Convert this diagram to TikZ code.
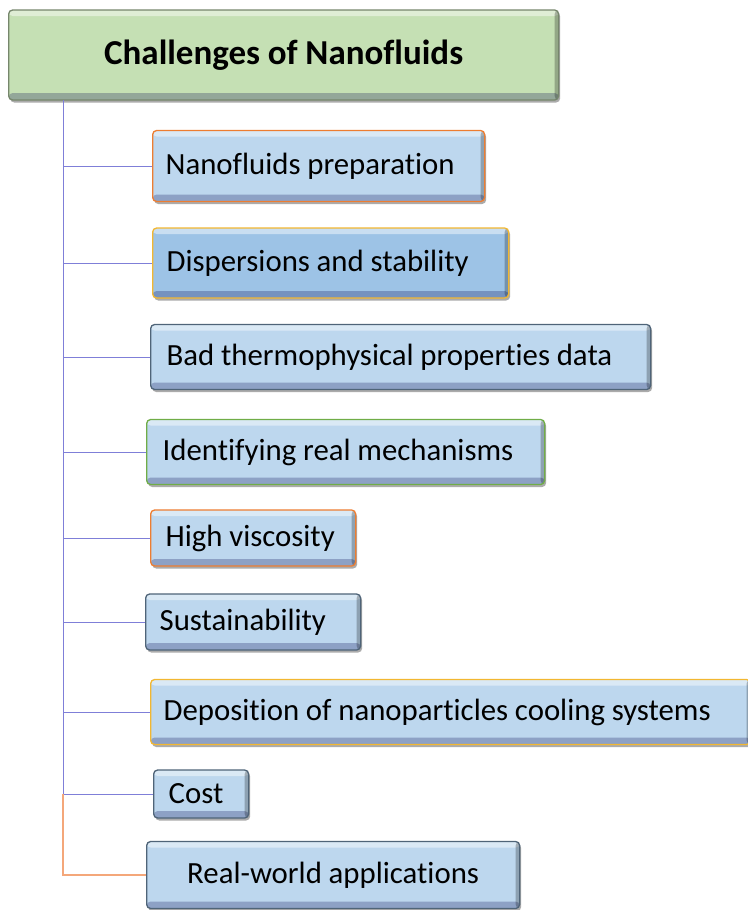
\documentclass[tikz,border=0pt]{standalone}
\usepackage{fontspec}
\setmainfont[Ligatures=NoCommon]{Carlito}
\usepackage{tikz}
\usetikzlibrary{shadows}
\definecolor{cbox}{HTML}{BDD7EE}
\definecolor{cboxd}{HTML}{9DC3E6}
\definecolor{ctitle}{HTML}{C5E0B4}
\definecolor{co}{HTML}{ED7D31}
\definecolor{cy}{HTML}{F2B731}
\definecolor{cg}{HTML}{70AD47}
\definecolor{cs}{HTML}{4F6478}
\definecolor{cl}{HTML}{7F7FD8}
\definecolor{cf}{HTML}{F4A77A}
\newcommand{\tightsp}{\spaceskip=0.22em\relax}

\tikzset{
  bevel/.style={rounded corners=4pt, line width=1.3pt, inner ysep=0pt, anchor=west,
    execute at begin node=\tightsp,
    drop shadow={shadow xshift=1.5pt, shadow yshift=-2.5pt, fill=black!60, opacity=.55},
    path picture={
      \fill[white, opacity=.45] (path picture bounding box.north west) rectangle ([yshift=-6pt]path picture bounding box.north east);
      \fill[black!70!blue, opacity=.25] ([yshift=7pt]path picture bounding box.south west) rectangle (path picture bounding box.south east);
      \fill[black, opacity=.25] ([xshift=-4pt]path picture bounding box.north east) rectangle (path picture bounding box.south east);}},
  itembox/.style={bevel, font=\fontsize{30.8}{36}\selectfont},
  headbox/.style={bevel, fill=ctitle, draw=ctitle!60!black, font=\bfseries\fontsize{35}{42}\selectfont, align=center},
  conn/.style={cl, line width=1pt},
  connlast/.style={cf, line width=1.2pt}
}

\begin{document}
\begin{tikzpicture}[x=1pt,y=-1pt]
  \useasboundingbox (0,0) rectangle (747,910);
  \node[headbox, minimum width=550, minimum height=90, text width=530] (title) at (8,55) {Challenges of Nanofluids};
  \coordinate (trunk) at (63,100);
  % challenge boxes: name/left/y/width/height/pad/border/fill/text
  \foreach \n/\x/\y/\w/\h/\p/\bc/\fc/\txt [evaluate=\w as \tw using \w-2*\p] in {
      n1/152/166/332/71/13/co/cbox/Nanofluids preparation,
      n2/152/263/356/70/14/cy/cboxd/Dispersions and stability,
      n3/150/357/500/65/16/cs/cbox/Bad thermophysical properties data,
      n4/146/452/398/65/16/cg/cbox/Identifying real mechanisms,
      n5/150/538/205/56/15/co/cbox/High viscosity,
      n6/145/622/215/56/14/cs/cbox/Sustainability,
      n7/150/712/600/65/13/cy/cbox/Deposition of nanoparticles cooling systems,
      n8/153/794/95/48/15/cs/cbox/Cost} {
    \node[itembox, draw=\bc, fill=\fc, inner xsep=\p pt, text width=\tw pt, minimum height=\h, align=left] (\n) at (\x,\y) {\txt};}
  \node[itembox, draw=cs, fill=cbox, inner xsep=0pt, text width=373pt, minimum height=67, align=center] (n9) at (146,875) {Real-world applications};
  % tree lines
  \draw[conn] (trunk) -- (trunk |- n8.west);
  \foreach \n in {n1,n2,n3,n4,n5,n6,n7,n8}
    \draw[conn] (trunk |- \n.west) -- (\n.west);
  \draw[connlast] (trunk |- n8.west) -- (trunk |- n9.west) -- (n9.west);
\end{tikzpicture}
\end{document}
